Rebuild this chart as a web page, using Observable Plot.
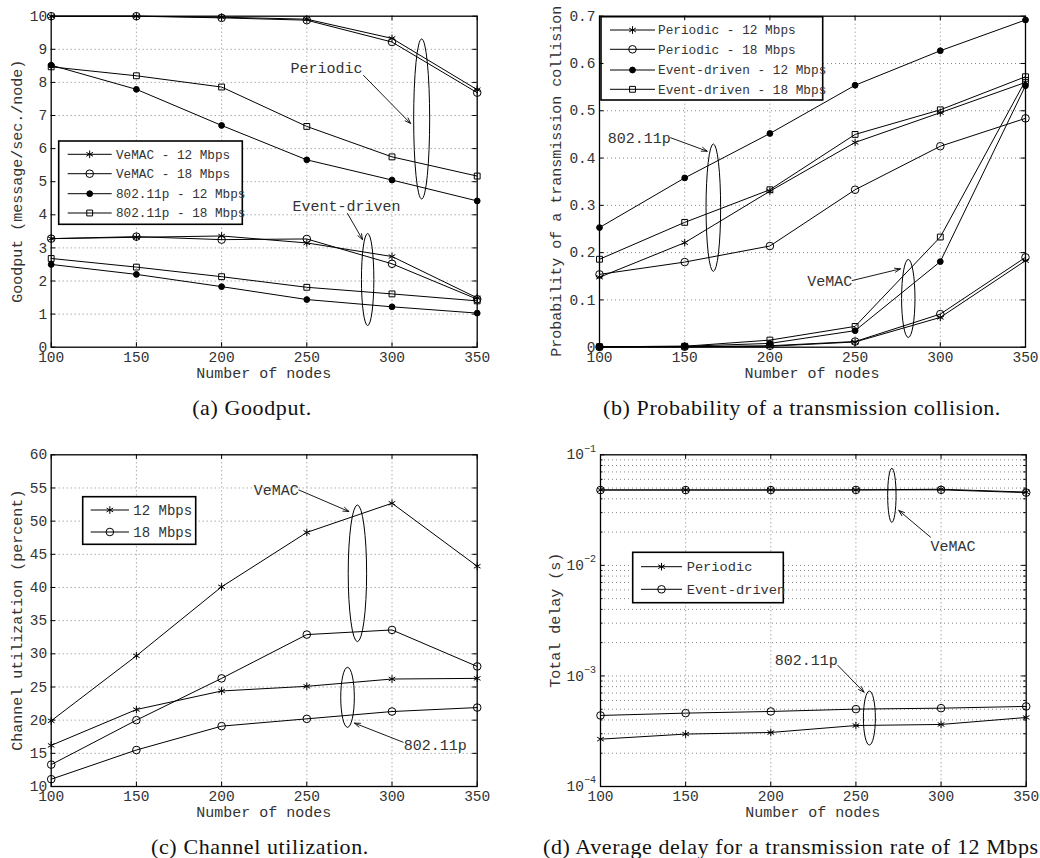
<!DOCTYPE html>
<html><head><meta charset="utf-8">
<script src="https://cdn.jsdelivr.net/npm/d3@7"></script>
<script src="https://cdn.jsdelivr.net/npm/@observablehq/plot@0.6"></script>
<style>
body{margin:0;background:#fff;}
#root{position:relative;width:1040px;height:858px;overflow:hidden;background:#fff;}
.panel{position:absolute;width:520px;height:390px;}
.cap{position:absolute;font-family:"Liberation Serif",serif;font-size:22px;letter-spacing:0.6px;line-height:22px;color:#111;white-space:nowrap;}
</style></head><body><div id="root"></div>
<script>
// ---------------- data ----------------
const nodes = [100, 150, 200, 250, 300, 350];

// (a) Goodput (message/sec./node)
const aVeMAC12Periodic = [10.0, 10.0, 9.97, 9.91, 9.33, 7.78];
const aVeMAC18Periodic = [10.0, 10.0, 9.95, 9.88, 9.22, 7.69];
const aP12Periodic = [8.52, 7.79, 6.70, 5.66, 5.05, 4.42];
const aP18Periodic = [8.47, 8.20, 7.86, 6.67, 5.75, 5.17];
const aVeMAC12Event = [3.28, 3.32, 3.36, 3.15, 2.74, 1.49];
const aVeMAC18Event = [3.28, 3.34, 3.25, 3.27, 2.52, 1.45];
const aP12Event = [2.50, 2.20, 1.83, 1.44, 1.22, 1.03];
const aP18Event = [2.68, 2.42, 2.13, 1.81, 1.61, 1.40];
const aLegend = ["VeMAC - 12 Mbps", "VeMAC - 18 Mbps", "802.11p - 12 Mbps", "802.11p - 18 Mbps"];

// (b) Probability of a transmission collision
const bP80211Periodic12 = [0.148, 0.221, 0.330, 0.433, 0.496, 0.560];
const bP80211Periodic18 = [0.154, 0.180, 0.214, 0.333, 0.425, 0.484];
const bP80211Event12 = [0.253, 0.358, 0.452, 0.554, 0.627, 0.692];
const bP80211Event18 = [0.186, 0.264, 0.333, 0.450, 0.502, 0.572];
const bVeMACPeriodic12 = [0.0005, 0.001, 0.002, 0.011, 0.063, 0.183];
const bVeMACPeriodic18 = [0.0005, 0.001, 0.003, 0.012, 0.070, 0.190];
const bVeMACEvent12 = [0.001, 0.002, 0.008, 0.035, 0.181, 0.553];
const bVeMACEvent18 = [0.001, 0.002, 0.015, 0.044, 0.233, 0.564];
const bLegend = ["Periodic - 12 Mbps", "Periodic - 18 Mbps", "Event-driven - 12 Mbps", "Event-driven - 18 Mbps"];

// (c) Channel utilization (percent)
const cVeMAC12 = [19.9, 29.7, 40.1, 48.3, 52.7, 43.2];
const cVeMAC18 = [13.3, 20.0, 26.3, 32.9, 33.6, 28.1];
const cP12 = [16.2, 21.6, 24.4, 25.1, 26.2, 26.3];
const cP18 = [11.1, 15.5, 19.1, 20.2, 21.3, 21.9];
const cLegend = ["12 Mbps", "18 Mbps"];

// (d) Total delay (s), 12 Mbps
const dVeMACPeriodic = [0.0481, 0.0481, 0.0481, 0.0482, 0.0488, 0.0460];
const dVeMACEvent = [0.0480, 0.0480, 0.0480, 0.0481, 0.0482, 0.0455];
const dP80211Periodic = [2.68e-4, 2.98e-4, 3.08e-4, 3.56e-4, 3.64e-4, 4.21e-4];
const dP80211Event = [4.39e-4, 4.61e-4, 4.77e-4, 5.01e-4, 5.11e-4, 5.30e-4];
const dLegend = ["Periodic", "Event-driven"];

// ticks
const xTicks = [100, 150, 200, 250, 300, 350];
const aYTicks = [0, 1, 2, 3, 4, 5, 6, 7, 8, 9, 10];
const bYTicks = [0, 0.1, 0.2, 0.3, 0.4, 0.5, 0.6, 0.7];
const cYTicks = [10, 15, 20, 25, 30, 35, 40, 45, 50, 55, 60];
const dYTicks = [1e-4, 1e-3, 1e-2, 1e-1];
const dYTickExp = ["\u22124", "\u22123", "\u22122", "\u22121"];
const dMinorMult = [2, 3, 4, 5, 6, 7, 8, 9];
const dYMinor = [1e-4, 1e-3, 1e-2].flatMap(d => dMinorMult.map(m => m * d));

const captions = ["(a) Goodput.", "(b) Probability of a transmission collision.", "(c) Channel utilization.", "(d) Average delay for a transmission rate of 12 Mbps."];

// ---------------- helpers ----------------
const MONO = "'Liberation Mono', 'DejaVu Sans Mono', monospace";
const markerStyle = {
  star:   {symbol: d3.symbolAsterisk, r: 3.6, fill: "none"},
  circle: {symbol: d3.symbolCircle, r: 3.8, fill: "none"},
  dot:    {symbol: d3.symbolCircle, r: 2.9, fill: "#000"},
  square: {symbol: d3.symbolSquare, r: 3.3, fill: "none"}
};
function rowsOf(series) {
  return series.flatMap(s => nodes.map((n, i) => ({x: n, y: s.values[i], key: s.key, marker: s.marker})));
}
function ellipseMark(list) {
  return (index, scales) => {
    const g = d3.create("svg:g").attr("fill", "none").attr("stroke", "#000").attr("stroke-width", 1);
    for (const e of list) g.append("ellipse").attr("cx", scales.x(e.x)).attr("cy", scales.y(e.y)).attr("rx", e.rx).attr("ry", e.ry);
    return g.node();
  };
}
function titlesMark(xLabel, yLabel, xOff, yOff) {
  return (index, scales, values, dims) => {
    const {width, height, marginLeft, marginRight, marginTop, marginBottom} = dims;
    const cx = (marginLeft + width - marginRight) / 2;
    const cy = (marginTop + height - marginBottom) / 2;
    const g = d3.create("svg:g").attr("font-size", 15).attr("fill", "#333").attr("font-family", MONO);
    g.append("text").attr("x", cx).attr("y", height - marginBottom + xOff).attr("text-anchor", "middle").attr("dy", "0.35em").text(xLabel);
    g.append("text").attr("transform", `translate(${marginLeft - yOff},${cy}) rotate(-90)`).attr("text-anchor", "middle").attr("dy", "0.35em").text(yLabel);
    return g.node();
  };
}
function legendMark(L) {
  return () => {
    const g = d3.create("svg:g").attr("font-family", MONO);
    g.append("rect").attr("x", L.x).attr("y", L.y).attr("width", L.w).attr("height", L.h)
      .attr("fill", "#fff").attr("stroke", "#000").attr("stroke-width", 1.6);
    L.labels.forEach((lab, i) => {
      const y = L.rows[i];
      const ms = markerStyle[L.markers[i]];
      g.append("line").attr("x1", L.lx1).attr("x2", L.lx2).attr("y1", y).attr("y2", y).attr("stroke", "#000").attr("stroke-width", 1);
      g.append("path").attr("transform", `translate(${(L.lx1 + L.lx2) / 2},${y})`)
        .attr("d", d3.symbol(ms.symbol, Math.PI * ms.r * ms.r)())
        .attr("fill", ms.fill).attr("stroke", "#000").attr("stroke-width", 1);
      g.append("text").attr("x", L.tx).attr("y", y).attr("dy", "0.35em").attr("text-anchor", "start")
        .attr("font-size", L.fs).attr("fill", "#333").text(lab);
    });
    return g.node();
  };
}

function makePanel(cfg) {
  const W = 520, H = 390;
  const fw = W - cfg.ml - cfg.mr, fh = H - cfg.mt - cfg.mb;
  const grid = {stroke: "#000", strokeOpacity: 0.6, strokeDasharray: "1,3", strokeWidth: 0.8};
  const marks = [];
  marks.push(Plot.ruleX(xTicks.slice(1, -1), grid));
  marks.push(Plot.ruleY(cfg.yGrid, grid));
  marks.push(Plot.line(cfg.rows, {x: "x", y: "y", z: "key", stroke: "#000", strokeWidth: 1}));
  for (const m of Object.keys(markerStyle)) {
    const ms = markerStyle[m];
    marks.push(Plot.dot(cfg.rows.filter(d => d.marker === m), {x: "x", y: "y", symbol: ms.symbol, r: ms.r, fill: ms.fill, stroke: "#000", strokeWidth: 1}));
  }
  marks.push(ellipseMark(cfg.ellipses));
  marks.push(Plot.arrow(cfg.arrows, {x1: "x1", y1: "y1", x2: "x2", y2: "y2", stroke: "#000", strokeWidth: 0.9, headLength: 10, headAngle: 40}));
  marks.push(Plot.text(cfg.notes.filter(d => d.anchor === "start"), {x: "x", y: "y", text: "text", textAnchor: "start", fontSize: 15, fill: "#333"}));
  marks.push(Plot.text(cfg.notes.filter(d => d.anchor === "end"), {x: "x", y: "y", text: "text", textAnchor: "end", fontSize: 15, fill: "#333"}));
  marks.push(legendMark(cfg.legend));
  // inner ticks on all four sides
  const tl = 4.5;
  marks.push(Plot.tickX(xTicks, {x: d => d, insetTop: fh - tl, stroke: "#000"}));
  marks.push(Plot.tickX(xTicks, {x: d => d, insetBottom: fh - tl, stroke: "#000"}));
  marks.push(Plot.tickY(cfg.yTicks, {y: d => d, insetRight: fw - tl, stroke: "#000"}));
  marks.push(Plot.tickY(cfg.yTicks, {y: d => d, insetLeft: fw - tl, stroke: "#000"}));
  if (cfg.yMinor) {
    marks.push(Plot.tickY(cfg.yMinor, {y: d => d, insetRight: fw - 2.5, stroke: "#000"}));
    marks.push(Plot.tickY(cfg.yMinor, {y: d => d, insetLeft: fw - 2.5, stroke: "#000"}));
  }
  marks.push(Plot.frame({stroke: "#000", strokeWidth: 1.3}));
  marks.push(Plot.axisX(xTicks, {tickSize: 0, tickPadding: cfg.xPad, fontSize: 14.5, label: null, fill: "#333"}));
  if (cfg.logLabels) {
    marks.push(Plot.text(cfg.yTicks, {y: d => d, text: () => "10", frameAnchor: "left", textAnchor: "end", dx: -16.5, fontSize: 14.5, fill: "#333"}));
    marks.push(Plot.text(cfg.yTicks, {y: d => d, text: (d, i) => dYTickExp[i], frameAnchor: "left", textAnchor: "end", dx: -4.5, dy: -6.5, fontSize: 10, fill: "#333"}));
  } else {
    marks.push(Plot.axisY(cfg.yTicks, {tickSize: 0, tickPadding: 4, fontSize: 14.5, label: null, fill: "#333", tickFormat: d => String(d)}));
  }
  marks.push(titlesMark("Number of nodes", cfg.yLabel, 26, cfg.yOff));
  const svg = Plot.plot({
    width: W, height: H,
    marginLeft: cfg.ml, marginRight: cfg.mr, marginTop: cfg.mt, marginBottom: cfg.mb,
    x: {domain: [100, 350], axis: null},
    y: {domain: cfg.yDomain, type: cfg.yType || "linear", axis: null},
    style: {fontFamily: MONO, fontSize: "14.5px", color: "#333", background: "transparent", overflow: "visible"},
    marks
  });
  const wrap = document.createElement("div");
  wrap.className = "panel";
  wrap.style.left = cfg.left + "px";
  wrap.style.top = cfg.top + "px";
  wrap.appendChild(svg);
  document.getElementById("root").appendChild(wrap);
}

// ---------------- panels ----------------
makePanel({
  left: 0, top: 0, ml: 50.7, mr: 43.3, mt: 15.7, mb: 43.3, xPad: 5,
  yDomain: [0, 10], yTicks: aYTicks, yGrid: aYTicks.slice(1, -1),
  yLabel: "Goodput (message/sec./node)", yOff: 34,
  rows: rowsOf([
    {key: "vp12", marker: "star", values: aVeMAC12Periodic},
    {key: "vp18", marker: "circle", values: aVeMAC18Periodic},
    {key: "pp12", marker: "dot", values: aP12Periodic},
    {key: "pp18", marker: "square", values: aP18Periodic},
    {key: "ve12", marker: "star", values: aVeMAC12Event},
    {key: "ve18", marker: "circle", values: aVeMAC18Event},
    {key: "pe12", marker: "dot", values: aP12Event},
    {key: "pe18", marker: "square", values: aP18Event}
  ]),
  ellipses: [{x: 317.7, y: 6.88, rx: 8, ry: 80}, {x: 286, y: 2.03, rx: 6.2, ry: 46}],
  arrows: [{x1: 283.3, y1: 8.21, x2: 310.9, y2: 6.76}, {x1: 273.9, y1: 4.04, x2: 282.7, y2: 3.25}],
  notes: [{x: 240.4, y: 8.42, text: "Periodic", anchor: "start"}, {x: 241.6, y: 4.25, text: "Event-driven", anchor: "start"}],
  legend: {x: 58.7, y: 141, w: 183.6, h: 83.3, rows: [154.3, 173.7, 193.7, 213], lx1: 67.7, lx2: 111.7, tx: 116, fs: 12.7,
           labels: aLegend, markers: ["star", "circle", "dot", "square"]}
});

makePanel({
  left: 520, top: 0, ml: 79, mr: 15, mt: 15.7, mb: 43.3, xPad: 5,
  yDomain: [0, 0.7], yTicks: bYTicks, yGrid: bYTicks.slice(1, -1),
  yLabel: "Probability of a transmission collision", yOff: 43.3,
  rows: rowsOf([
    {key: "pp12", marker: "star", values: bP80211Periodic12},
    {key: "pp18", marker: "circle", values: bP80211Periodic18},
    {key: "pe12", marker: "dot", values: bP80211Event12},
    {key: "pe18", marker: "square", values: bP80211Event18},
    {key: "vp12", marker: "star", values: bVeMACPeriodic12},
    {key: "vp18", marker: "circle", values: bVeMACPeriodic18},
    {key: "ve12", marker: "dot", values: bVeMACEvent12},
    {key: "ve18", marker: "square", values: bVeMACEvent18}
  ]),
  ellipses: [{x: 167.1, y: 0.294, rx: 7.3, ry: 63.7}, {x: 281.5, y: 0.102, rx: 6.7, ry: 39}],
  arrows: [{x1: 141.7, y1: 0.443, x2: 163.2, y2: 0.4145}, {x1: 248.3, y1: 0.141, x2: 276.6, y2: 0.1657}],
  notes: [{x: 104.9, y: 0.4427, text: "802.11p", anchor: "start"}, {x: 248.3, y: 0.1396, text: "VeMAC", anchor: "end"}],
  legend: {x: 81, y: 16.7, w: 221.7, h: 83.3, rows: [30, 49.3, 70, 89.3], lx1: 90, lx2: 135, tx: 138, fs: 12.75,
           labels: bLegend, markers: ["star", "circle", "dot", "square"]}
});

makePanel({
  left: 0, top: 430, ml: 50.7, mr: 43.3, mt: 24.3, mb: 34, xPad: 4,
  yDomain: [10, 60], yTicks: cYTicks, yGrid: cYTicks.slice(1, -1),
  yLabel: "Channel utilization (percent)", yOff: 34,
  rows: rowsOf([
    {key: "v12", marker: "star", values: cVeMAC12},
    {key: "v18", marker: "circle", values: cVeMAC18},
    {key: "p12", marker: "star", values: cP12},
    {key: "p18", marker: "circle", values: cP18}
  ]),
  ellipses: [{x: 280, y: 42.06, rx: 9.2, ry: 68.3}, {x: 274.2, y: 23.37, rx: 6.8, ry: 30}],
  arrows: [{x1: 245.3, y1: 54.7, x2: 274.7, y2: 51.46}, {x1: 306.5, y1: 16.68, x2: 278, y2: 19.55}],
  notes: [{x: 245.3, y: 54.6, text: "VeMAC", anchor: "end"}, {x: 306.9, y: 16.18, text: "802.11p", anchor: "start"}],
  legend: {x: 82.7, y: 66.7, w: 113, h: 47.6, rows: [80, 102], lx1: 90.7, lx2: 129, tx: 133.3, fs: 14,
           labels: cLegend, markers: ["star", "circle"]}
});

makePanel({
  left: 520, top: 430, ml: 80, mr: 14.3, mt: 24.3, mb: 34, xPad: 4,
  yDomain: [1e-4, 1e-1], yType: "log", yTicks: dYTicks, yGrid: [1e-3, 1e-2, ...dYMinor], yMinor: dYMinor, logLabels: true,
  yLabel: "Total delay (s)", yOff: 45,
  rows: rowsOf([
    {key: "vp", marker: "star", values: dVeMACPeriodic},
    {key: "ve", marker: "circle", values: dVeMACEvent},
    {key: "pp", marker: "star", values: dP80211Periodic},
    {key: "pe", marker: "circle", values: dP80211Event}
  ]),
  ellipses: [{x: 271.4, y: 0.04256, rx: 4.2, ry: 27}, {x: 258.2, y: 4.12e-4, rx: 6, ry: 27}],
  arrows: [{x1: 293.8, y1: 0.018, x2: 275.2, y2: 0.03136}, {x1: 239.4, y1: 1.245e-3, x2: 254.7, y2: 7.14e-4}],
  notes: [{x: 293.8, y: 0.01483, text: "VeMAC", anchor: "start"}, {x: 239.4, y: 1.4e-3, text: "802.11p", anchor: "end"}],
  legend: {x: 112.7, y: 122.3, w: 150.6, h: 50.4, rows: [136.7, 159.3], lx1: 121, lx2: 162, tx: 166.7, fs: 13.7,
           labels: dLegend, markers: ["star", "circle"]}
});

// ---------------- captions ----------------
const root = document.getElementById("root");
function caption(text, opts) {
  const d = document.createElement("div");
  d.className = "cap";
  d.textContent = text;
  d.style.top = opts.top + "px";
  if (opts.center != null) { d.style.left = (opts.center - 300) + "px"; d.style.width = "600px"; d.style.textAlign = "center"; }
  else d.style.left = opts.left + "px";
  root.appendChild(d);
}
caption(captions[0], {center: 252, top: 396.5});
caption(captions[1], {center: 802, top: 396.5});
caption(captions[2], {center: 260, top: 835.5});
caption(captions[3], {left: 543, top: 835.5});
</script>
</body></html>
